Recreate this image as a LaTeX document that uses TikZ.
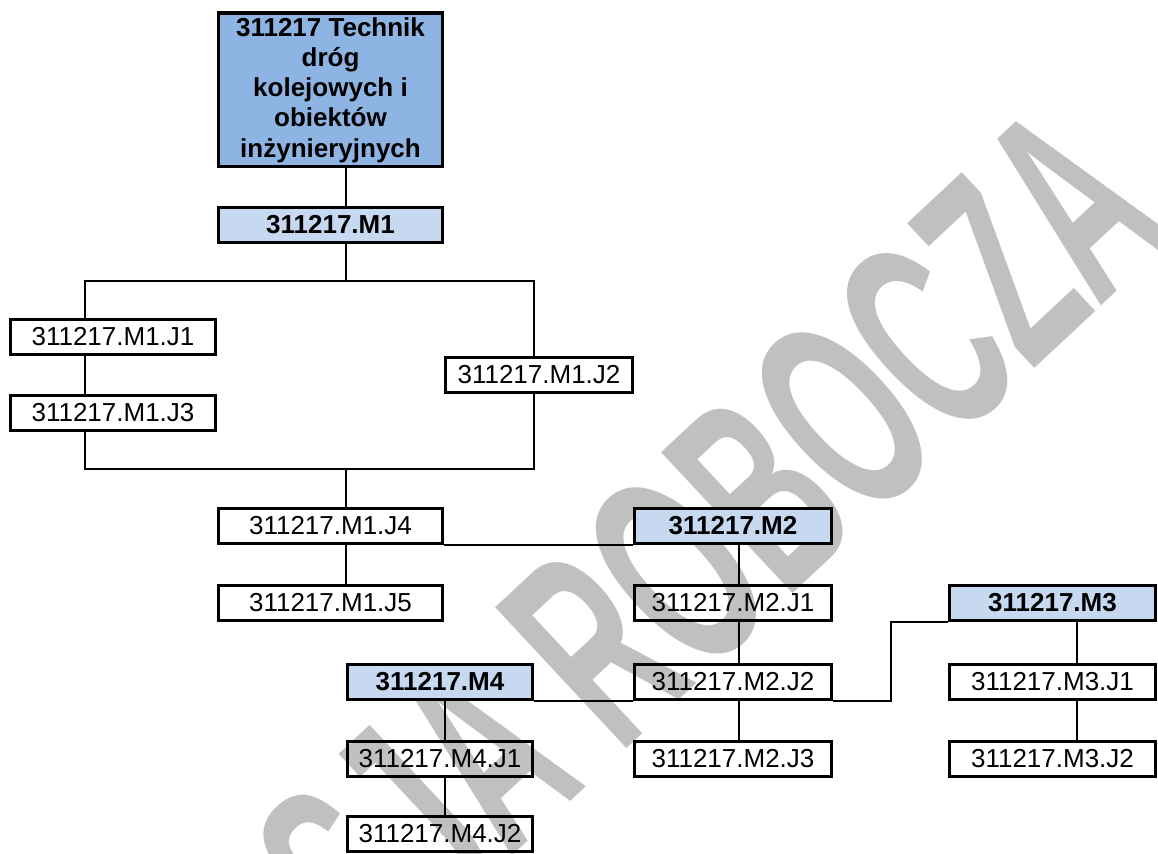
\documentclass[tikz,border=0pt]{standalone}
\usepackage{graphicx}
\usepackage{fontspec}
\setmainfont{Liberation Sans}
\definecolor{topblue}{HTML}{8EB4E3}
\definecolor{modblue}{HTML}{C6D9F1}
\definecolor{wmgray}{HTML}{C0C0C0}
\begin{document}
\begin{tikzpicture}[x=0.5pt,y=-0.5pt,
    box/.style={draw, line width=1.6pt, inner sep=0pt, minimum height=17.4pt,
      font=\fontsize{13}{15}\selectfont},
    modbox/.style={box, fill=modblue, font=\fontsize{13}{15}\selectfont\bfseries},
    link/.style={line width=0.8pt}]
            \useasboundingbox (0,0) rectangle (1158,854);

            % Watermark in the background
            \node[anchor=base east, rotate=43, inner sep=0pt, text=wmgray,
              font=\fontsize{140}{140}\selectfont\bfseries] (wm) at (1179,234)
              {\scalebox{0.54}[1]{WERSJA ROBOCZA}};

            % Qualification and first module
            \node[box, fill=topblue, minimum width=111.9pt, minimum height=76.9pt,
              align=center, font=\fontsize{13}{15.1}\selectfont\bfseries] (top) at (330.5,90)
              {311217 Technik\\dróg\\kolejowych i\\obiektów\\inżynieryjnych};
            \node[modbox, minimum width=111.9pt] (M1) at (330.5,225) {311217.M1};

            % Units of M1
            \node[box, minimum width=102.4pt] (J1) at (113,337) {311217.M1.J1};
            \node[box, minimum width=102.4pt] (J3) at (113,413) {311217.M1.J3};
            \node[box, minimum width=93.4pt] (J2) at (539,375) {311217.M1.J2};
            \node[box, minimum width=111.9pt] (J4) at (330.5,526) {311217.M1.J4};
            \node[box, minimum width=111.9pt] (J5) at (330.5,603) {311217.M1.J5};

            % Module M2
            \node[modbox, minimum width=98.4pt] (M2) at (733,526) {311217.M2};
            \node[box, minimum width=98.4pt] (M2J1) at (733,603) {311217.M2.J1};
            \node[box, minimum width=98.4pt] (M2J2) at (733,682) {311217.M2.J2};
            \node[box, minimum width=98.4pt] (M2J3) at (733,759) {311217.M2.J3};

            % Module M3
            \node[modbox, minimum width=102.9pt] (M3) at (1052.5,603) {311217.M3};
            \node[box, minimum width=102.9pt] (M3J1) at (1052.5,682) {311217.M3.J1};
            \node[box, minimum width=102.9pt] (M3J2) at (1052.5,759) {311217.M3.J2};

            % Module M4
            \node[modbox, minimum width=92.4pt] (M4) at (440,682) {311217.M4};
            \node[box, minimum width=92.4pt] (M4J1) at (440,759) {311217.M4.J1};
            \node[box, minimum width=92.4pt] (M4J2) at (440,834) {311217.M4.J2};

            % Columns of the connectors
            \coordinate (colA) at (346,0);
            \coordinate (colL) at (85,0);
            \coordinate (colR) at (534,0);
            \coordinate (colM2) at (739,0);
            \coordinate (colM3) at (1077,0);
            \coordinate (colM4) at (445,0);
            \coordinate (forkT) at (346,281);
            \coordinate (joinB) at (346,469);
            \coordinate (bendM3) at (891,622);

            % Connectors
            \draw[link] (top.south -| colA) -- (M1.north -| colA);
            \draw[link] (M1.south -| colA) -- (forkT);
            \draw[link] (J1.north -| colL) |- (forkT) -| (J2.north -| colR);
            \draw[link] (J1.south -| colL) -- (J3.north -| colL);
            \draw[link] (J3.south -| colL) |- (joinB) -| (J2.south -| colR);
            \draw[link] (joinB) -- (J4.north -| colA);
            \draw[link] (J4.south -| colA) -- (J5.north -| colA);
            \draw[link] (J4.south east) -- (M2.south west);
            \draw[link] (M2.south -| colM2) -- (M2J1.north -| colM2);
            \draw[link] (M2J1.south -| colM2) -- (M2J2.north -| colM2);
            \draw[link] (M2J2.south -| colM2) -- (M2J3.north -| colM2);
            \draw[link] (M2J2.south east) -| (bendM3) -- (M3.south west);
            \draw[link] (M3.south -| colM3) -- (M3J1.north -| colM3);
            \draw[link] (M3J1.south -| colM3) -- (M3J2.north -| colM3);
            \draw[link] (M4.south east) -- (M2J2.south west);
            \draw[link] (M4.south -| colM4) -- (M4J1.north -| colM4);
            \draw[link] (M4J1.south -| colM4) -- (M4J2.north -| colM4);
        \end{tikzpicture}
\end{document}
